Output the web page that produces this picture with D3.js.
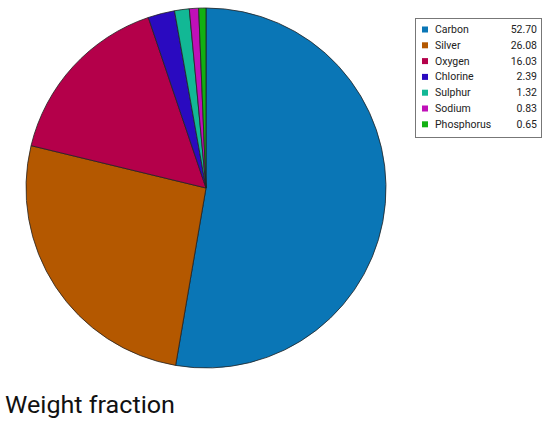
<!DOCTYPE html>
<html><head><meta charset="utf-8">
<script src="https://cdn.jsdelivr.net/npm/d3@7"></script>
<style>body{margin:0;background:#fff;} svg{display:block;}</style>
</head><body>
<script>
const categories = ["Carbon","Silver","Oxygen","Chlorine","Sulphur","Sodium","Phosphorus"];
const values = [52.70, 26.08, 16.03, 2.39, 1.32, 0.83, 0.65];
const valueLabels = ["52.70","26.08","16.03","2.39","1.32","0.83","0.65"];
const colors = ["#0a76b6","#b45800","#b4004a","#2a0ac0","#12b895","#c010b8","#12b012"];
const title = "Weight fraction";

const W = 550, H = 430;
const svg = d3.select("body").append("svg").attr("width", W).attr("height", H);
const font = "Roboto, 'Noto Sans', sans-serif";

const cx = 206, cy = 188, r = 180;
const pie = d3.pie().sort(null).value(d => d.v);
const arc = d3.arc().innerRadius(0).outerRadius(r);
const data = categories.map((c,i)=>({c, v: values[i]}));
const color = d3.scaleOrdinal().domain(categories).range(colors);

svg.append("g").attr("transform", `translate(${cx},${cy})`)
  .selectAll("path").data(pie(data)).join("path")
  .attr("d", arc).attr("fill", d => color(d.data.c))
  .attr("stroke", "#222").attr("stroke-width", 0.8);

// legend
const lx = 415, ly = 18, lw = 126, lh = 119, rowH = 15.8;
const lg = svg.append("g");
lg.append("rect").attr("x", lx+0.5).attr("y", ly+0.5).attr("width", lw).attr("height", lh)
  .attr("fill", "#fff").attr("stroke", "#777").attr("stroke-width", 1);
const rows = lg.selectAll("g.row").data(data).join("g")
  .attr("transform", (d,i) => `translate(${lx}, ${ly + 15 + i*rowH})`);
rows.append("rect").attr("x", 7).attr("y", -6.5).attr("width", 6).attr("height", 6)
  .attr("fill", d => color(d.c));
rows.append("text").attr("x", 20).attr("y", 0).attr("font-family", font).attr("font-size", 10.5)
  .attr("fill", "#222").text(d => d.c);
rows.append("text").attr("x", lw - 4).attr("y", 0).attr("text-anchor", "end")
  .attr("font-family", font).attr("font-size", 10.5).attr("fill", "#222")
  .text((d,i) => valueLabels[i]);

svg.append("text").attr("x", 5).attr("y", 413).attr("font-family", font)
  .attr("font-size", 23).attr("fill", "#111")
  .attr("textLength", 170).attr("lengthAdjust", "spacingAndGlyphs").text(title);
</script>
</body></html>
